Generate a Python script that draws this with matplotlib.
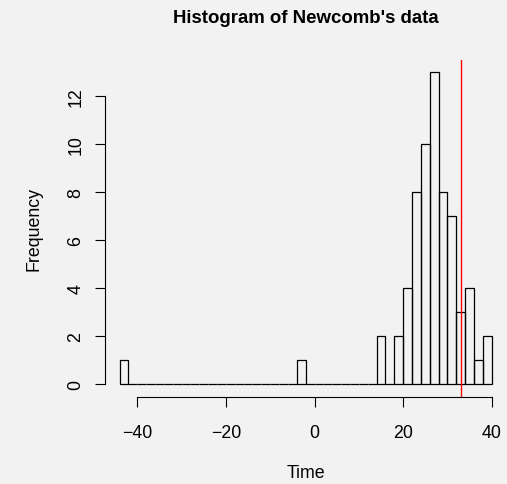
import matplotlib
matplotlib.use("Agg")
import matplotlib.pyplot as plt

# histogram of Newcomb's passage times, bins of width 2
bin_left = [-44, -42, -40, -38, -36, -34, -32, -30, -28, -26, -24, -22, -20, -18,
            -16, -14, -12, -10, -8, -6, -4, -2, 0, 2, 4, 6, 8, 10, 12, 14, 16,
            18, 20, 22, 24, 26, 28, 30, 32, 34, 36, 38]
counts = [1, 0, 0, 0, 0, 0, 0, 0, 0, 0, 0, 0, 0, 0,
          0, 0, 0, 0, 0, 0, 1, 0, 0, 0, 0, 0, 0, 0, 0, 2, 0,
          2, 4, 8, 10, 13, 8, 7, 3, 4, 1, 2]
bin_width = 2
true_value = 33.02

x_ticks = [-40, -20, 0, 20, 40]
x_labels = ["\u221240", "\u221220", "0", "20", "40"]
y_ticks = [0, 2, 4, 6, 8, 10, 12]

plt.rcParams['font.family'] = ['Liberation Sans', 'DejaVu Sans']
bg = '#F2F2F2'

fig = plt.figure(figsize=(5.07, 4.85), dpi=100, facecolor=bg)
ax = fig.add_axes([0.2065, 0.1798, 0.7927, 0.6948])
ax.patch.set_visible(False)

ax.bar(bin_left, counts, width=bin_width, align='edge', fill=False,
       edgecolor='black', linewidth=0.9)
ax.axvline(true_value, color='red', linewidth=1.0)

ax.set_xlim(-47.36, 43.36)
ax.set_ylim(-0.52, 13.52)

for s in ['top', 'right']:
    ax.spines[s].set_visible(False)
ax.spines['left'].set_bounds(0, 12)
ax.spines['bottom'].set_bounds(-40, 40)
ax.spines['left'].set_linewidth(0.8)
ax.spines['bottom'].set_linewidth(0.8)

ax.set_xticks(x_ticks)
ax.set_xticklabels(x_labels)
ax.set_yticks(y_ticks)
ax.set_yticklabels([str(v) for v in y_ticks], rotation=90, va='center')
ax.tick_params(length=7.5, width=0.8, labelsize=12.8)
ax.tick_params(axis='x', pad=12)
ax.tick_params(axis='y', pad=7)

ax.set_xlabel("Time", fontsize=12.8, labelpad=17)
ax.set_ylabel("Frequency", fontsize=12.8, labelpad=18)
fig.text(0.6025, 0.962, "Histogram of Newcomb's data", ha='center', va='center',
         fontsize=13.4, fontweight='bold')

fig.savefig("out.png", dpi=100, facecolor=bg)
